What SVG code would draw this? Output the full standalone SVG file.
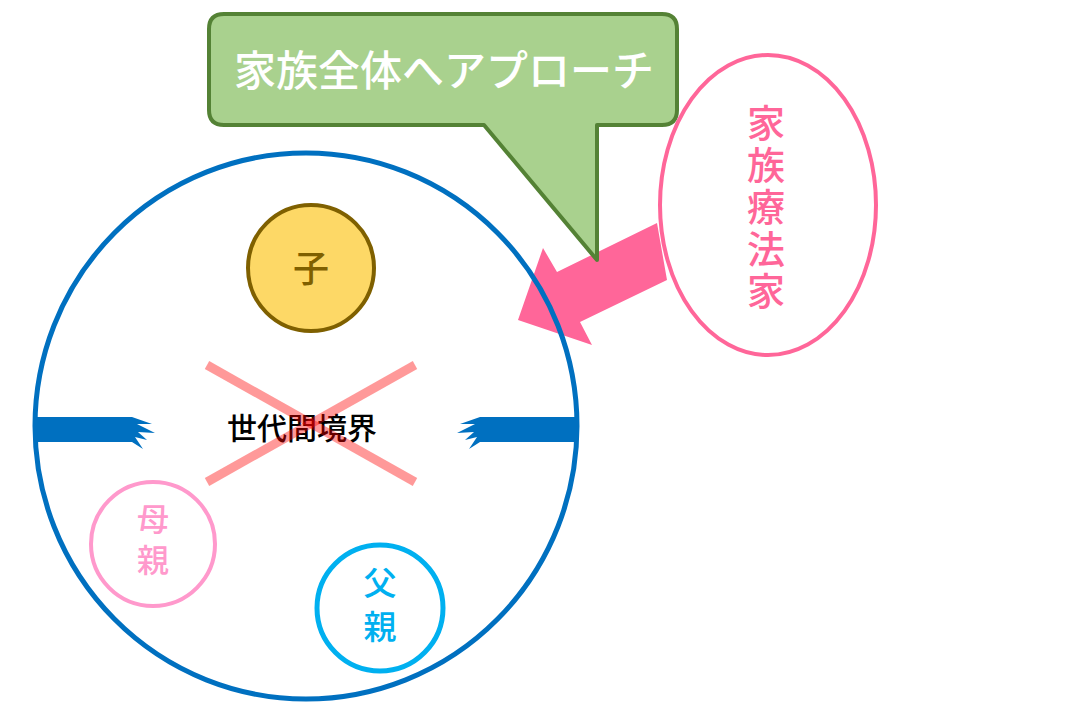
<svg xmlns="http://www.w3.org/2000/svg" width="1080" height="720" viewBox="0 0 1080 720">
<style>
text{font-family:"Noto Sans CJK JP","Noto Sans CJK SC",sans-serif;text-anchor:middle}
.v{writing-mode:vertical-rl;text-anchor:start}
.bar{fill:#0070C0}
</style>
<rect width="1080" height="720" fill="#fff"/>
<g id="connectors">
<path id="pink-arrow" d="M657,223 L667,280 L580,322 L592,345 L518,320 L543,248 L557,272 Z" fill="#FF6699"/>
</g>
<g id="family">
<ellipse cx="306" cy="426" rx="271" ry="273" fill="none" stroke="#0070C0" stroke-width="5"/>
<path class="bar" d="M35,417 L132,417 L152,424 L137,424 L155,433 L138,432 L147,440 L135,437 L143,449 L132,442 L35,442 Z"/>
<path class="bar" d="M577,417 L480,417 L460,424 L475,424 L457,433 L474,432 L465,440 L477,437 L469,449 L480,442 L577,442 Z"/>
</g>
<g id="boundary">
<text x="302" y="439" font-size="30" font-weight="500" fill="#000">世代間境界</text>
<g stroke="#FF0000" stroke-opacity="0.4" stroke-width="9">
<line x1="207" y1="365" x2="415" y2="482"/>
<line x1="415" y1="365" x2="207" y2="482"/>
</g>
</g>
<g id="child">
<circle cx="311" cy="268" r="63" fill="#FDD866" stroke="#7F6000" stroke-width="4"/>
<text x="311" y="282" font-size="36" font-weight="500" fill="#7F6000">子</text>
</g>
<g id="mother">
<circle cx="153" cy="544" r="62" fill="#fff" stroke="#FF99CC" stroke-width="4"/>
<text class="v" x="153" y="503" font-size="32" font-weight="500" fill="#FF99CC" letter-spacing="9">母親</text>
</g>
<g id="father">
<circle cx="380" cy="608" r="63" fill="#fff" stroke="#00B0F0" stroke-width="5"/>
<text class="v" x="380" y="566" font-size="33" font-weight="500" fill="#00B0F0" letter-spacing="11">父親</text>
</g>
<g id="callout">
<path d="M224,14 L662,14 Q677,14 677,29 L677,110 Q677,125 662,125 L597,125 L597,260 L484,125 L224,125 Q209,125 209,110 L209,29 Q209,14 224,14 Z" fill="#A9D18E" stroke="#548235" stroke-width="4" stroke-linejoin="round"/>
<text x="444" y="86" font-size="42" font-weight="500" fill="#fff">家族全体へアプローチ</text>
</g>
<g id="therapist">
<ellipse cx="768" cy="205" rx="108" ry="150" fill="#fff" stroke="#FF6699" stroke-width="4"/>
<text class="v" x="766" y="104" font-size="38" font-weight="500" fill="#FF6699" letter-spacing="4">家族療法家</text>
</g>
</svg>
